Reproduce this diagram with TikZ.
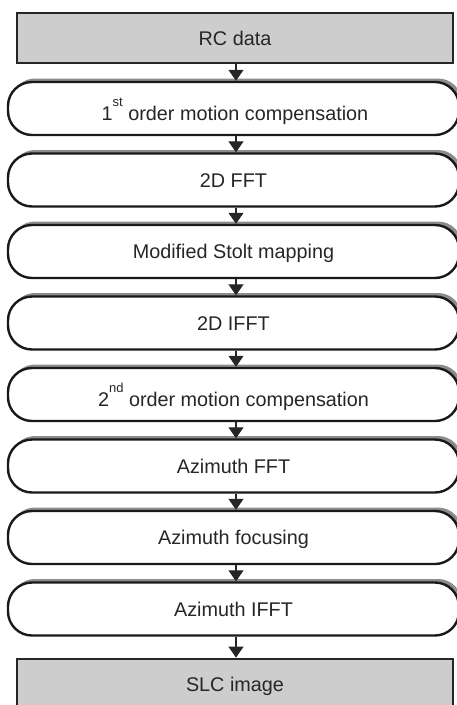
\documentclass[tikz,border=0pt]{standalone}
\usepackage{fontspec}
\setmainfont{Liberation Sans}
\usetikzlibrary{arrows.meta,shadows}
\definecolor{boxgray}{HTML}{CDCDCD}
\definecolor{shadowgray}{HTML}{8C8C8C}
\newcommand{\supx}[1]{\raisebox{14pt}{\fontsize{13}{13}\selectfont #1}}
\begin{document}
\begin{tikzpicture}[x=1pt,y=1pt,
  endbox/.style={draw=black!85,line width=2.8pt,fill=boxgray,minimum width=436pt,minimum height=50pt,inner sep=0pt},
  procbox/.style={draw=black!90,line width=2.4pt,fill=white,rounded corners=24pt,minimum width=451pt,minimum height=53pt,inner sep=0pt,
    drop shadow={shadow xshift=3pt,shadow yshift=3.5pt,fill=shadowgray,opacity=1}},
  lbl/.style={anchor=base,font=\fontsize{19.8}{23}\selectfont,text=black!85,inner sep=0pt},
  arr/.style={draw=black!85,line width=1.2pt,-{Triangle[width=15pt,length=11pt]}}]
\useasboundingbox (0,0) rectangle (457,-705);
\coordinate (ax) at (236,0);
\node[endbox] (rc) at (235,-38) {};
\node[lbl] (trc) at (235,-45) {RC data};
\foreach \i/\nm in {1/b1,2/b2,3/b3,4/b4,5/b5,6/b6,7/b7,8/b8}{
  \node[procbox] (\nm) at (233.5,{-108.5-71.5*(\i-1)}) {};
}
\node[endbox] (slc) at (235,-684) {};
\node[lbl] (t1) at (235,-120.5) {1\supx{st} order motion compensation};
\node[lbl] (t2) at ([yshift=-7pt]b2.center) {2D FFT};
\node[lbl] (t3) at ([yshift=-7pt]b3.center) {Modified Stolt mapping};
\node[lbl] (t4) at ([yshift=-7pt]b4.center) {2D IFFT};
\node[lbl] (t5) at ([yshift=-12pt]b5.center) {2\supx{nd} order motion compensation};
\node[lbl] (t6) at ([yshift=-7pt]b6.center) {Azimuth FFT};
\node[lbl] (t7) at ([yshift=-7pt]b7.center) {Azimuth focusing};
\node[lbl] (t8) at ([yshift=-7pt]b8.center) {Azimuth IFFT};
\node[lbl] (tslc) at (235,-684-7) {SLC image};
\draw[arr] (rc.south -| ax) -- (b1.north -| ax);
\draw[arr] (b1.south -| ax) -- (b2.north -| ax);
\draw[arr] (b2.south -| ax) -- (b3.north -| ax);
\draw[arr] (b3.south -| ax) -- (b4.north -| ax);
\draw[arr] (b4.south -| ax) -- (b5.north -| ax);
\draw[arr] (b5.south -| ax) -- (b6.north -| ax);
\draw[arr] (b6.south -| ax) -- (b7.north -| ax);
\draw[arr] (b7.south -| ax) -- (b8.north -| ax);
\draw[arr] (b8.south -| ax) -- (slc.north -| ax);
\end{tikzpicture}
\end{document}
